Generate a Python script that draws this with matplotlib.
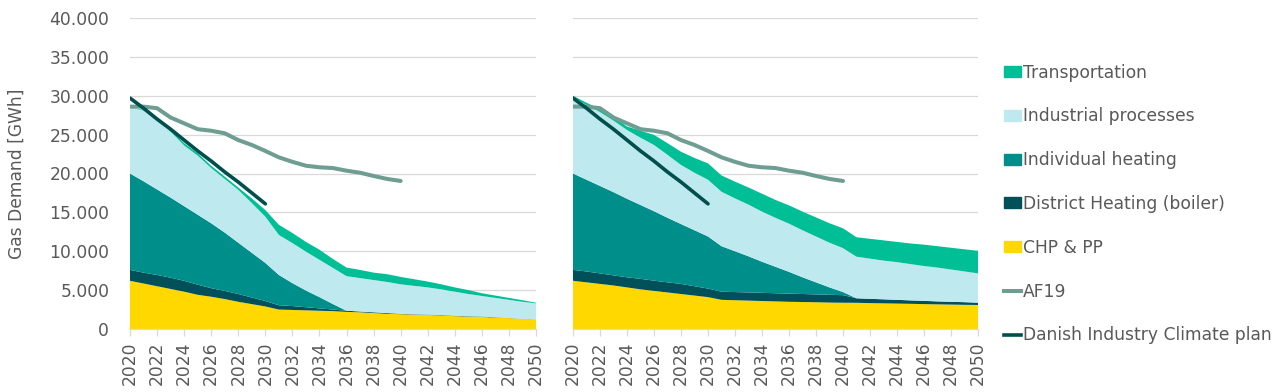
import numpy as np
import matplotlib.pyplot as plt
from matplotlib.patches import Patch
from matplotlib.lines import Line2D
from matplotlib.ticker import FuncFormatter

years = list(range(2020, 2051))

# left scenario, GWh per year (stack order bottom -> top)
left_chp = [6200, 5850, 5500, 5150, 4800, 4400, 4150, 3850, 3500, 3200, 2900,
            2500, 2450, 2400, 2350, 2300, 2200, 2150, 2050, 1950, 1900,
            1850, 1800, 1750, 1650, 1600, 1550, 1450, 1400, 1300, 1250]
left_dh = [1400, 1400, 1450, 1450, 1400, 1300, 1100, 1050, 1000, 850, 700,
           550, 500, 400, 300, 200, 150, 100, 100, 100, 50,
           50, 50, 50, 50, 50, 50, 50, 20, 20, 0]
left_ih = [12400, 11750, 11000, 10300, 9600, 9000, 8350, 7500, 6600, 5750, 4900,
           3900, 2950, 2150, 1450, 700, 0, 0, 0, 0, 0,
           0, 0, 0, 0, 0, 0, 0, 0, 0, 0]
left_ip = [8500, 9100, 9050, 8500, 7800, 7600, 7100, 6900, 6800, 6400, 5950,
           5150, 5150, 5000, 4800, 4650, 4450, 4300, 4150, 4000, 3800,
           3650, 3500, 3300, 3100, 2850, 2650, 2500, 2330, 2180, 2050]
left_tr = [0, 100, 200, 200, 300, 300, 300, 300, 300, 600, 850,
           1300, 1300, 1250, 1300, 1150, 1100, 1050, 950, 1000, 950,
           850, 750, 650, 550, 500, 350, 300, 250, 200, 80]

# right scenario
right_chp = [6200, 6000, 5800, 5600, 5350, 5100, 4900, 4700, 4500, 4300, 4100,
             3750, 3700, 3650, 3600, 3550, 3500, 3470, 3440, 3400, 3380,
             3370, 3330, 3300, 3270, 3240, 3200, 3170, 3140, 3110, 3090]
right_dh = [1400, 1400, 1350, 1300, 1300, 1350, 1320, 1300, 1300, 1200, 1100,
            1050, 1050, 1050, 1050, 1050, 1050, 1030, 1010, 1000, 970,
            580, 550, 520, 480, 440, 420, 380, 360, 340, 290]
right_ih = [12400, 11800, 11250, 10700, 10100, 9500, 8930, 8300, 7700, 7200, 6700,
            5850, 5250, 4650, 4000, 3400, 2800, 2150, 1550, 950, 400,
            0, 0, 0, 0, 0, 0, 0, 0, 0, 0]
right_ip = [9800, 9600, 9500, 9200, 8850, 8650, 8520, 8100, 7600, 7400, 7300,
            7000, 6800, 6650, 6450, 6300, 6200, 6050, 5900, 5750, 5650,
            5350, 5170, 4980, 4850, 4670, 4480, 4350, 4150, 3950, 3780]
right_tr = [200, 300, 400, 450, 450, 900, 1300, 1500, 1700, 1900, 2100,
            2100, 2150, 2200, 2300, 2300, 2350, 2400, 2450, 2500, 2550,
            2500, 2550, 2600, 2600, 2650, 2750, 2750, 2800, 2850, 2900]

af19_years = list(range(2020, 2041))
af19 = [28600, 28600, 28400, 27200, 26450, 25700, 25500, 25170, 24300, 23670, 22900,
        22080, 21500, 21000, 20800, 20700, 20360, 20100, 19680, 19300, 19040]
di_years = list(range(2020, 2031))
di_plan = [29700, 28400, 27000, 25700, 24300, 22900, 21600, 20200, 18900, 17500, 16100]

labels = ["CHP & PP", "District Heating (boiler)", "Individual heating",
          "Industrial processes", "Transportation"]
colors = ["#FFD800", "#00505A", "#008E8B", "#BDE9EF", "#00BF96"]
af19_color = "#6E9D92"
di_color = "#004F4D"
txt = "#595959"
grid = "#D9D9D9"

fig = plt.figure(figsize=(12.81, 3.92), dpi=100)
ax1 = fig.add_axes([130 / 1281, 1 - 329 / 392, 406 / 1281, 311 / 392])
ax2 = fig.add_axes([573 / 1281, 1 - 329 / 392, 405 / 1281, 311 / 392])

panels = [(ax1, [left_chp, left_dh, left_ih, left_ip, left_tr]),
          (ax2, [right_chp, right_dh, right_ih, right_ip, right_tr])]

for ax, stack in panels:
    ax.stackplot(years, *stack, colors=colors, linewidth=0, zorder=2)
    ax.plot(af19_years, af19, color=af19_color, lw=2.9, zorder=3, solid_capstyle='round')
    ax.plot(di_years, di_plan, color=di_color, lw=2.6, zorder=4, solid_capstyle='round')
    ax.set_xlim(2020, 2050)
    ax.set_ylim(0, 40000)
    ax.set_yticks(range(0, 40001, 5000))
    ax.set_xticks(range(2020, 2051, 2))
    ax.set_xticklabels([str(y) for y in range(2020, 2051, 2)], rotation=90)
    ax.grid(axis='y', color=grid, lw=0.9)
    ax.set_axisbelow(True)
    for s in ['top', 'right', 'left']:
        ax.spines[s].set_visible(False)
    ax.spines['bottom'].set_color(grid)
    ax.spines['bottom'].set_linewidth(0.9)
    ax.tick_params(axis='x', colors=grid, length=5, width=0.9, labelcolor=txt,
                   labelsize=12.3, pad=4)
    ax.tick_params(axis='y', length=0, labelcolor=txt, labelsize=12.3, pad=15)

ax1.yaxis.set_major_formatter(FuncFormatter(lambda v, p: f"{v:,.0f}".replace(",", ".")))
ax1.set_ylabel("Gas Demand [GWh]", color=txt, fontsize=12.3, labelpad=17)
ax2.set_yticklabels([])

handles = [Patch(color=colors[4]), Patch(color=colors[3]), Patch(color=colors[2]),
           Patch(color=colors[1]), Patch(color=colors[0]),
           Line2D([], [], color=af19_color, lw=2.9),
           Line2D([], [], color=di_color, lw=2.6)]
names = ["Transportation", "Industrial processes", "Individual heating",
         "District Heating (boiler)", "CHP & PP", "AF19", "Danish Industry Climate plan"]
leg = fig.legend(handles, names, loc='upper left', bbox_to_anchor=(995 / 1281, 1 - 55 / 392),
                 frameon=False, fontsize=12.3, handlelength=1.0, handleheight=0.6,
                 handletextpad=0.15, labelspacing=1.51, borderpad=0)
for t in leg.get_texts():
    t.set_color(txt)

fig.savefig("out.png", dpi=100)
